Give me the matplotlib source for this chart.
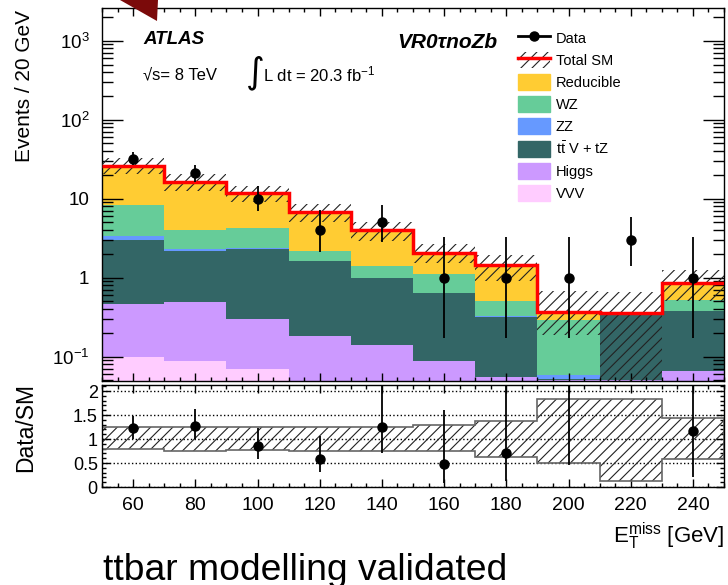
import matplotlib.pyplot as plt
import numpy as np
from matplotlib.lines import Line2D
from matplotlib.patches import Patch, Polygon
from matplotlib.ticker import MultipleLocator, LogLocator, FuncFormatter, NullFormatter

plt.rcParams['font.family'] = ['Liberation Sans', 'DejaVu Sans']
plt.rcParams['mathtext.fontset'] = 'custom'
plt.rcParams['mathtext.rm'] = 'Liberation Sans'
plt.rcParams['mathtext.it'] = 'Liberation Sans:italic'
plt.rcParams['mathtext.bf'] = 'Liberation Sans:bold'
plt.rcParams['hatch.linewidth'] = 0.8
plt.rcParams['hatch.color'] = '#222222'

W, H = 728, 585

# MET bins, 20 GeV wide
edges = np.arange(50, 251, 20)
centers = edges[:-1] + 10

# expected yields per process (events / 20 GeV)
vvv = [0.099, 0.0865, 0.070, 0.030, 0.025, 0.020, 0.015, 0.010, 0.010, 0.020]
higgs = [0.366, 0.400, 0.230, 0.150, 0.114, 0.067, 0.040, 0.040, 0.040, 0.046]
ttv = [2.565, 1.663, 2.010, 1.430, 0.851, 0.543, 0.265, 0.002, 0.295, 0.309]
zz = [0.370, 0.130, 0.040, 0.020, 0.010, 0.010, 0.005, 0.006, 0.003, 0.005]
wz = [5.00, 1.77, 1.95, 0.57, 0.42, 0.48, 0.175, 0.236, 0.012, 0.147]
reducible = [17.8, 12.35, 7.4, 4.6, 2.55, 0.93, 0.93, 0.077, 0.0, 0.33]

# relative uncertainty band on total SM
syst_down = [0.79, 0.76, 0.78, 0.75, 0.74, 0.74, 0.63, 0.51, 0.12, 0.59]
syst_up = [1.24, 1.26, 1.24, 1.25, 1.26, 1.29, 1.37, 1.84, 1.84, 1.44]

# observed events with asymmetric poisson errors
data = [32, 21, 10, 4, 5, 1, 1, 1, 3, 1]
data_err_lo = [5.6, 4.55, 3.1, 1.9, 2.2, 0.83, 0.83, 0.83, 1.6, 0.83]
data_err_hi = [6.7, 5.6, 4.3, 3.2, 3.4, 2.3, 2.3, 2.3, 2.9, 2.3]

processes = [
    ('VVV', vvv, '#FFCCFF'),
    ('Higgs', higgs, '#CC99FF'),
    (r'$\mathrm{t\bar{t}}$ V + tZ', ttv, '#336666'),
    ('ZZ', zz, '#6699FF'),
    ('WZ', wz, '#66CC99'),
    ('Reducible', reducible, '#FFCC33'),
]

total = np.sum([p[1] for p in processes], axis=0)
data = np.array(data, dtype=float)
err_lo = np.array(data_err_lo)
err_hi = np.array(data_err_hi)
syst_down = np.array(syst_down)
syst_up = np.array(syst_up)


def px(x, y):
    return x / W, 1 - y / H


fig = plt.figure(figsize=(W / 100, H / 100), dpi=100)
ax = fig.add_axes([102 / W, 1 - 381 / H, 622 / W, 373 / H])
rax = fig.add_axes([102 / W, 1 - 487 / H, 622 / W, 102 / H])

# stacked backgrounds
bottom = np.full(len(centers), 1e-4)
for name, vals, color in processes:
    top = bottom + np.array(vals)
    ax.stairs(top, edges, baseline=bottom, fill=True, color=color, lw=0)
    bottom = top

ax.stairs(total * syst_up, edges, baseline=total * syst_down, fill=True,
          facecolor='none', edgecolor='#222222', hatch='///', lw=0, zorder=3)
ax.stairs(total, edges, baseline=None, color='red', lw=2.5, zorder=4)
ax.errorbar(centers, data, yerr=[err_lo, err_hi], fmt='o', color='k',
            ms=6.5, lw=1.3, capsize=0, zorder=5)

ax.set_yscale('log')
ax.set_xlim(50, 250)
ax.set_ylim(0.049, 2600)


def log_label(v, pos):
    if abs(v - 1) < 1e-9:
        return '1'
    if abs(v - 10) < 1e-9:
        return '10'
    return r'$10^{%d}$' % round(np.log10(v))


ax.yaxis.set_major_locator(LogLocator(base=10))
ax.yaxis.set_minor_locator(LogLocator(base=10, subs=np.arange(2, 10)))
ax.yaxis.set_major_formatter(FuncFormatter(log_label))
ax.yaxis.set_minor_formatter(NullFormatter())
ax.xaxis.set_major_locator(MultipleLocator(20))
ax.xaxis.set_minor_locator(MultipleLocator(5))
ax.tick_params(which='both', direction='in', top=True, right=True,
               labelbottom=False, width=1)
ax.tick_params(axis='y', which='major', length=15, labelsize=13.5, pad=9)
ax.tick_params(axis='y', which='minor', length=8)
ax.tick_params(axis='x', which='major', length=6)
ax.tick_params(axis='x', which='minor', length=3)

# ratio panel
ratio = data / total
rax.stairs(syst_up, edges, baseline=syst_down, fill=True, facecolor='none',
           edgecolor='#222222', hatch='///', lw=0, zorder=2)
rax.stairs(syst_up, edges, baseline=syst_down, fill=False,
           edgecolor='#666666', lw=1.2, zorder=2)
rax.errorbar(centers, ratio, yerr=[err_lo / total, err_hi / total], fmt='o',
             color='k', ms=6.5, lw=1.3, capsize=0, zorder=5)
rax.grid(axis='y', ls=':', color='k', lw=1)
rax.set_xlim(50, 250)
rax.set_ylim(0, 2.125)
rax.xaxis.set_major_locator(MultipleLocator(20))
rax.xaxis.set_minor_locator(MultipleLocator(5))
rax.yaxis.set_major_locator(MultipleLocator(0.5))
rax.yaxis.set_minor_locator(MultipleLocator(0.1))
rax.yaxis.set_major_formatter(FuncFormatter(lambda v, p: '%g' % v))
rax.tick_params(which='both', direction='in', top=True, right=True, width=1)
rax.tick_params(which='major', length=6)
rax.tick_params(which='minor', length=3)
rax.tick_params(axis='y', labelsize=13, pad=3)
rax.tick_params(axis='x', labelsize=14, pad=7)

for a in (ax, rax):
    for s in a.spines.values():
        s.set_linewidth(1.0)

# labels and annotations
fig.text(*px(143, 44), 'ATLAS', fontsize=13.5, weight='bold', style='italic', va='baseline')
fig.text(*px(143, 79), '√s= 8 TeV', fontsize=12, va='baseline')
fig.text(*px(255, 73), '∫', fontsize=26, va='center', ha='center', family='DejaVu Sans')
fig.text(*px(263, 81), r'L dt = 20.3 fb$^{-1}$', fontsize=12, va='baseline')
fig.text(*px(397, 48), 'VR0τnoZb', fontsize=15, weight='bold', style='italic', va='baseline')

fig.text(*px(25, 10), 'Events / 20 GeV', rotation=90, ha='center', va='top', fontsize=15)
fig.text(*px(26, 428), 'Data/SM', rotation=90, ha='center', va='center', fontsize=16.5)
fig.text(*px(724, 543), r'$\mathrm{E}_{\mathrm{T}}^{\mathrm{miss}}$ [GeV]', ha='right',
         va='baseline', fontsize=16)
fig.text(*px(103, 580), 'ttbar modelling validated', fontsize=26.8, va='baseline')

# pointer arrow tip in the corner
fig.patches.append(Polygon([px(120, 0), px(158, 0), px(157, 21)], closed=True,
                           transform=fig.transFigure, facecolor='#7B0A0A',
                           edgecolor='none', zorder=10))

handles = [Line2D([], [], color='k', marker='o', ms=6.5, lw=2),
           (Patch(facecolor='none', edgecolor='#222222', hatch='///', lw=0),
            Line2D([], [], color='red', lw=2.5))]
labels = ['Data', 'Total SM']
for name, vals, color in reversed(processes):
    handles.append(Patch(facecolor=color, edgecolor=color))
    labels.append(name)
fig.legend(handles, labels, loc='upper left', bbox_to_anchor=px(518, 30),
           frameon=False, fontsize=10.5, handlelength=2.2, handleheight=1.3,
           labelspacing=0.42, handletextpad=0.4, borderpad=0, borderaxespad=0)

fig.savefig('out.png', dpi=100)
